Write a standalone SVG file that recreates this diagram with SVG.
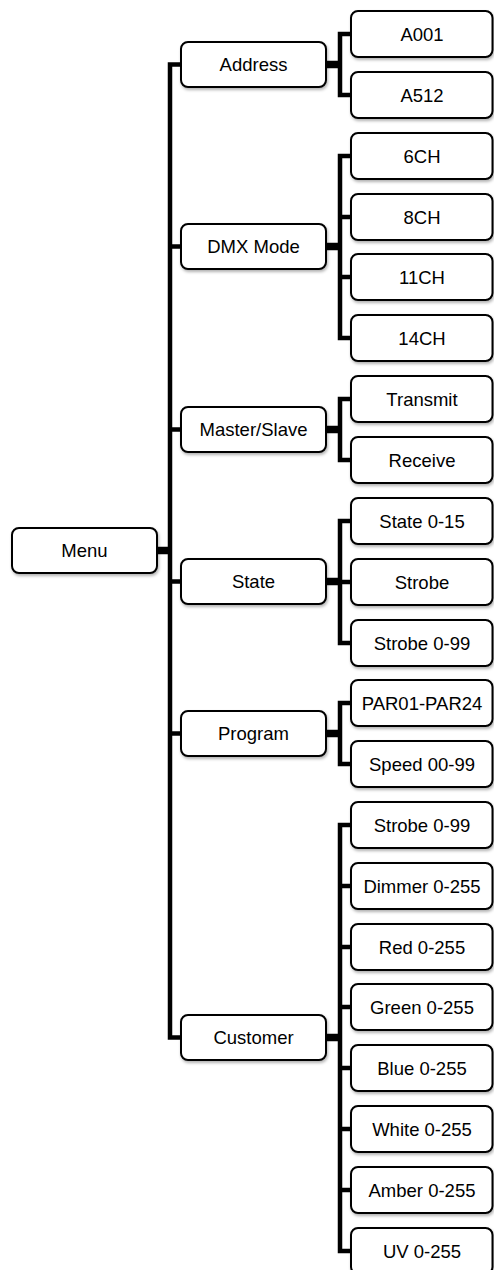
<svg xmlns="http://www.w3.org/2000/svg" width="494" height="1270" viewBox="0 0 494 1270">
<style>
.box{fill:#fff;stroke:#000;stroke-width:2;filter:url(#sh)}
.t{font-family:"Liberation Sans",Arial,sans-serif;font-size:18.5px;fill:#000;text-anchor:middle}
.c{fill:none;stroke:#000;stroke-width:4.5;stroke-linejoin:miter;stroke-linecap:butt}
.s{fill:none;stroke:#000;stroke-width:7.5;stroke-linecap:butt}
</style>
<defs>
<filter id="sh" x="-10%" y="-20%" width="125%" height="150%">
<feDropShadow dx="1" dy="2" stdDeviation="1.5" flood-color="#000" flood-opacity="0.3"/>
</filter>
</defs>
<rect width="494" height="1270" fill="#fff"/>
<g id="connectors">
<path class="c" d="M181,64.5 H170 V1037.5 H181"/>
<path class="c" d="M170,246.5 H181 M170,429.5 H181 M170,581.5 H181 M170,733.5 H181"/>
<path class="s" d="M157,550.5 H170"/>
<path class="c" d="M351,34 H340 V95 H351"/>
<path class="s" d="M326,64.5 H340"/>
<path class="c" d="M351,156 H340 V338 H351 M340,217 H351 M340,277 H351"/>
<path class="s" d="M326,246.5 H340"/>
<path class="c" d="M351,399 H340 V460 H351"/>
<path class="s" d="M326,429.5 H340"/>
<path class="c" d="M351,521 H340 V643 H351 M340,582 H351"/>
<path class="s" d="M326,581.5 H340"/>
<path class="c" d="M351,703 H340 V764 H351"/>
<path class="s" d="M326,733.5 H340"/>
<path class="c" d="M351,825 H340 V1251 H351 M340,886 H351 M340,947 H351 M340,1007 H351 M340,1068 H351 M340,1129 H351 M340,1190 H351"/>
<path class="s" d="M326,1037.5 H340"/>
</g>
<g id="menu"><rect class="box" x="12" y="528" width="145" height="45" rx="7"/><text class="t" x="84.5" y="557">Menu</text></g>
<g id="address"><rect class="box" x="181" y="42" width="145" height="45" rx="7"/><text class="t" x="253.5" y="71">Address</text></g>
<g id="dmx-mode"><rect class="box" x="181" y="224" width="145" height="45" rx="7"/><text class="t" x="253.5" y="253">DMX Mode</text></g>
<g id="master-slave"><rect class="box" x="181" y="407" width="145" height="45" rx="7"/><text class="t" x="253.5" y="436">Master/Slave</text></g>
<g id="state"><rect class="box" x="181" y="559" width="145" height="45" rx="7"/><text class="t" x="253.5" y="588">State</text></g>
<g id="program"><rect class="box" x="181" y="711" width="145" height="45" rx="7"/><text class="t" x="253.5" y="740">Program</text></g>
<g id="customer"><rect class="box" x="181" y="1015" width="145" height="45" rx="7"/><text class="t" x="253.5" y="1044">Customer</text></g>
<g id="a001"><rect class="box" x="351" y="11" width="141.5" height="46" rx="7"/><text class="t" x="422" y="40.5">A001</text></g>
<g id="a512"><rect class="box" x="351" y="72" width="141.5" height="46" rx="7"/><text class="t" x="422" y="101.5">A512</text></g>
<g id="ch6"><rect class="box" x="351" y="133" width="141.5" height="46" rx="7"/><text class="t" x="422" y="162.5">6CH</text></g>
<g id="ch8"><rect class="box" x="351" y="194" width="141.5" height="46" rx="7"/><text class="t" x="422" y="223.5">8CH</text></g>
<g id="ch11"><rect class="box" x="351" y="254" width="141.5" height="46" rx="7"/><text class="t" x="422" y="283.5">11CH</text></g>
<g id="ch14"><rect class="box" x="351" y="315" width="141.5" height="46" rx="7"/><text class="t" x="422" y="344.5">14CH</text></g>
<g id="transmit"><rect class="box" x="351" y="376" width="141.5" height="46" rx="7"/><text class="t" x="422" y="405.5">Transmit</text></g>
<g id="receive"><rect class="box" x="351" y="437" width="141.5" height="46" rx="7"/><text class="t" x="422" y="466.5">Receive</text></g>
<g id="state-0-15"><rect class="box" x="351" y="498" width="141.5" height="46" rx="7"/><text class="t" x="422" y="527.5">State 0-15</text></g>
<g id="strobe"><rect class="box" x="351" y="559" width="141.5" height="46" rx="7"/><text class="t" x="422" y="588.5">Strobe</text></g>
<g id="strobe-0-99-a"><rect class="box" x="351" y="620" width="141.5" height="46" rx="7"/><text class="t" x="422" y="649.5">Strobe 0-99</text></g>
<g id="par"><rect class="box" x="351" y="680" width="141.5" height="46" rx="7"/><text class="t" x="422" y="709.5">PAR01-PAR24</text></g>
<g id="speed"><rect class="box" x="351" y="741" width="141.5" height="46" rx="7"/><text class="t" x="422" y="770.5">Speed 00-99</text></g>
<g id="strobe-0-99-b"><rect class="box" x="351" y="802" width="141.5" height="46" rx="7"/><text class="t" x="422" y="831.5">Strobe 0-99</text></g>
<g id="dimmer"><rect class="box" x="351" y="863" width="141.5" height="46" rx="7"/><text class="t" x="422" y="892.5">Dimmer 0-255</text></g>
<g id="red"><rect class="box" x="351" y="924" width="141.5" height="46" rx="7"/><text class="t" x="422" y="953.5">Red 0-255</text></g>
<g id="green"><rect class="box" x="351" y="984" width="141.5" height="46" rx="7"/><text class="t" x="422" y="1013.5">Green 0-255</text></g>
<g id="blue"><rect class="box" x="351" y="1045" width="141.5" height="46" rx="7"/><text class="t" x="422" y="1074.5">Blue 0-255</text></g>
<g id="white"><rect class="box" x="351" y="1106" width="141.5" height="46" rx="7"/><text class="t" x="422" y="1135.5">White 0-255</text></g>
<g id="amber"><rect class="box" x="351" y="1167" width="141.5" height="46" rx="7"/><text class="t" x="422" y="1196.5">Amber 0-255</text></g>
<g id="uv"><rect class="box" x="351" y="1228" width="141.5" height="46" rx="7"/><text class="t" x="422" y="1257.5">UV 0-255</text></g>
</svg>
